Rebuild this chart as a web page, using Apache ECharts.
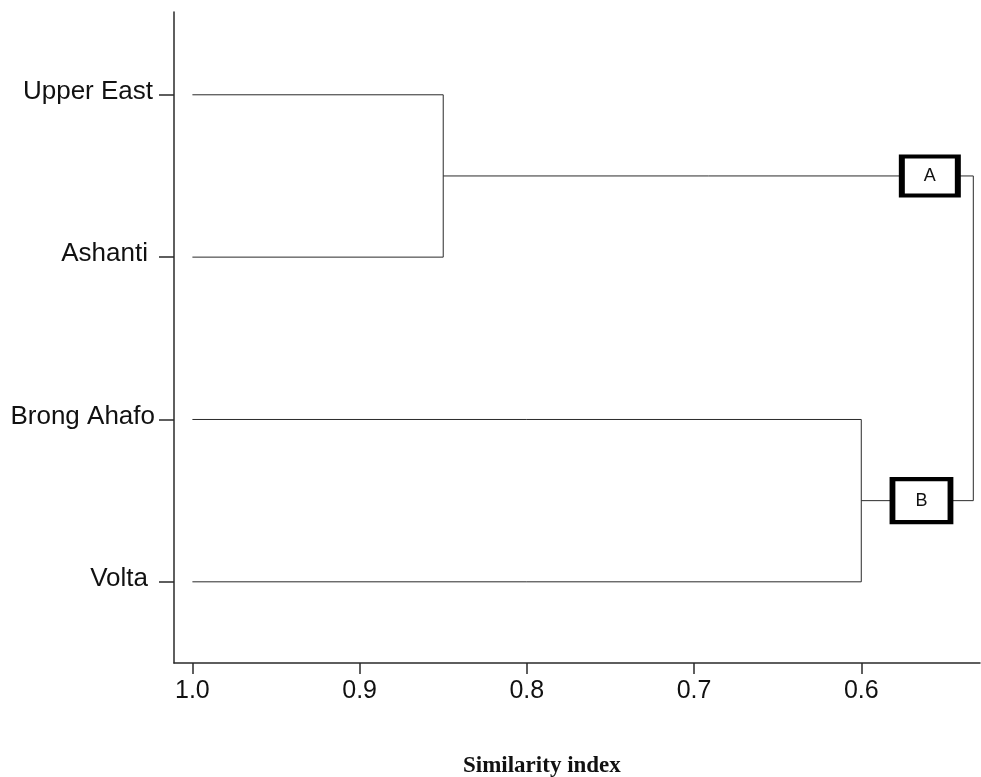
<!DOCTYPE html>
<html>
<head>
<meta charset="utf-8">
<script src="https://cdn.jsdelivr.net/npm/echarts@6/dist/echarts.min.js"></script>
<style>
html,body{margin:0;padding:0;background:#fff;}
#chart{width:981px;height:777px;}
</style>
</head>
<body>
<div id="chart"></div>
<script>
// Leaves (top to bottom) and their row positions
const leaves = ['Upper East', 'Ashanti', 'Brong Ahafo', 'Volta'];
const leafRows = [1, 2, 3, 4];
const leafSimilarity = 1.0;
// Merges: pairs of cluster ids (0-3 leaves, 4+ merges) and their similarity levels
const mergePairs = [[0, 1], [2, 3], [4, 5]];
const mergeHeights = [0.85, 0.60, 0.533];
// Cluster annotation boxes
const boxLabels = ['A', 'B'];
const boxSimilarity = [0.559, 0.564];
const boxRows = [1.5, 3.5];
// Axis ticks
const xTicks = [1.0, 0.9, 0.8, 0.7, 0.6];
const xTitle = 'Similarity index';

// styling helpers (not data)
const labelPadRight = [2, 7, 0, 7];
const boxSizes = [[56, 39], [58, 43]];

// Build dendrogram paths
const nodeX = leaves.map(() => leafSimilarity);
const nodeY = leafRows.slice();
const linkSeries = [];
mergePairs.forEach((p, i) => {
  const h = mergeHeights[i];
  const [a, b] = p;
  linkSeries.push({
    type: 'line',
    data: [[nodeX[a], nodeY[a]], [h, nodeY[a]], [h, nodeY[b]], [nodeX[b], nodeY[b]]],
    showSymbol: false,
    symbol: 'none',
    silent: true,
    animation: false,
    lineStyle: { color: '#2a2a2a', width: 1 },
    z: 2
  });
  nodeX.push(h);
  nodeY.push((nodeY[a] + nodeY[b]) / 2);
});

const font = '"Liberation Sans", Arial, sans-serif';
const rich = {};
labelPadRight.forEach((r, i) => {
  rich['l' + i] = { fontSize: 26, color: '#111', fontFamily: font, padding: [0, r, 6, 0] };
});

const chart = echarts.init(document.getElementById('chart'));
chart.setOption({
  animation: false,
  grid: { left: 174, right: 1, top: 12, bottom: 114, containLabel: false },
  xAxis: {
    type: 'value', inverse: true, min: 0.529, max: 1.011,
    splitLine: { show: false },
    axisLine: { show: true, lineStyle: { color: '#2a2a2a', width: 1.5 } },
    axisTick: { show: true, length: 11, customValues: xTicks, lineStyle: { color: '#2a2a2a', width: 1.5 } },
    axisLabel: { customValues: xTicks, formatter: v => Number(v).toFixed(1), fontSize: 25, color: '#111', fontFamily: font, margin: 16 }
  },
  yAxis: {
    type: 'value', inverse: true, min: 0.49, max: 4.5,
    splitLine: { show: false },
    axisLine: { show: true, lineStyle: { color: '#2a2a2a', width: 1.5 } },
    axisTick: { show: true, length: 15, customValues: leafRows, lineStyle: { color: '#2a2a2a', width: 1.5 } },
    axisLabel: {
      customValues: leafRows,
      formatter: v => { const i = Math.round(v) - 1; return '{l' + i + '|' + leaves[i] + '}'; },
      rich: rich, margin: 19
    }
  },
  series: linkSeries.concat([{
    type: 'scatter',
    data: boxLabels.map((l, i) => ({ value: [boxSimilarity[i], boxRows[i]], name: l, symbolSize: boxSizes[i] })),
    symbol: 'rect',
    silent: true,
    itemStyle: { color: '#fff', borderColor: '#000', borderWidth: 5, opacity: 1 },
    label: { show: true, position: 'inside', formatter: p => p.name, color: '#111', fontSize: 18, fontFamily: font },
    z: 5
  }]),
  graphic: [{
    type: 'text', left: 463, top: 755,
    style: { text: xTitle, font: 'bold 23px "Liberation Serif", "Times New Roman", serif', fill: '#111' }
  }]
});
</script>
</body>
</html>
